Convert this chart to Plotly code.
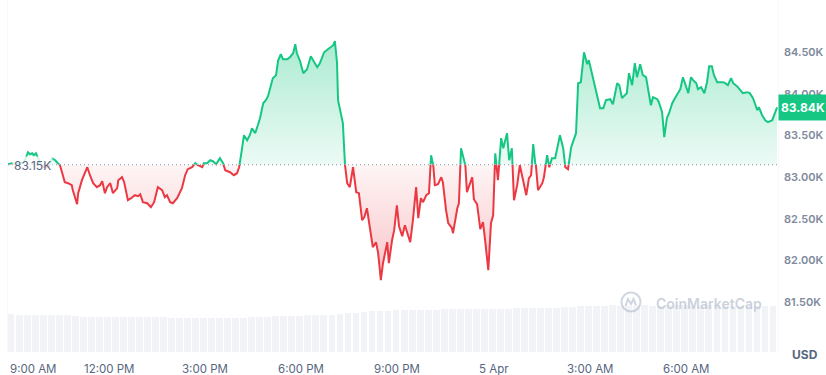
import pandas as pd
import plotly.graph_objects as go

# ---------------- data ----------------
clock = [
    "08:52", "08:59", "09:07", "09:14", "09:22", "09:27", "09:29", "09:33", "09:37", "09:40",
    "09:44", "09:52", "09:59", "10:07", "10:10", "10:14", "10:20", "10:25", "10:29", "10:38",
    "10:44", "10:51", "10:53", "11:01", "11:03", "11:10", "11:20", "11:25", "11:31", "11:38",
    "11:44", "11:48", "11:53", "11:57", "12:03", "12:08", "12:16", "12:18", "12:25", "12:29",
    "12:36", "12:42", "12:49", "12:55", "12:59", "13:04", "13:12", "13:19", "13:25", "13:32",
    "13:40", "13:45", "13:49", "13:55", "14:00", "14:08", "14:17", "14:23", "14:28", "14:36",
    "14:42", "14:47", "14:55", "14:58", "15:04", "15:10", "15:15", "15:21", "15:28", "15:34",
    "15:38", "15:47", "15:54", "16:00", "16:04", "16:09", "16:13", "16:19", "16:24", "16:28",
    "16:34", "16:39", "16:43", "16:49", "16:54", "16:58", "17:04", "17:07", "17:13", "17:17",
    "17:22", "17:26", "17:34", "17:39", "17:45", "17:49", "17:52", "17:58", "18:04", "18:11",
    "18:18", "18:24", "18:30", "18:35", "18:43", "18:50", "19:00", "19:03", "19:07", "19:09",
    "19:16", "19:18", "19:22", "19:26", "19:31", "19:37", "19:43", "19:48", "19:54", "19:58",
    "20:03", "20:09", "20:14", "20:20", "20:24", "20:29", "20:33", "20:41", "20:44", "20:50",
    "20:54", "20:59", "21:03", "21:09", "21:14", "21:24", "21:29", "21:35", "21:39", "21:44",
    "21:48", "21:54", "21:59", "22:03", "22:07", "22:10", "22:16", "22:22", "22:25", "22:31",
    "22:35", "22:42", "22:44", "22:52", "22:55", "22:59", "23:03", "23:07", "23:10", "23:14",
    "23:20", "23:23", "23:29", "23:35", "23:40", "23:44", "23:50", "23:55", "23:59", "00:03",
    "00:08", "00:14", "00:18", "00:25", "00:29", "00:34", "00:38", "00:44", "00:49", "00:55",
    "01:01", "01:06", "01:10", "01:14", "01:19", "01:23", "01:31", "01:34", "01:40", "01:44",
    "01:49", "01:55", "02:04", "02:10", "02:14", "02:19", "02:25", "02:34", "02:38", "02:43",
    "02:49", "02:55", "02:58", "03:04", "03:10", "03:13", "03:19", "03:25", "03:30", "03:38",
    "03:43", "03:51", "03:55", "04:00", "04:06", "04:09", "04:13", "04:19", "04:24", "04:28",
    "04:34", "04:39", "04:45", "04:49", "04:54", "04:58", "05:06", "05:09", "05:15", "05:19",
    "05:24", "05:28", "05:34", "05:39", "05:45", "05:49", "05:54", "05:58", "06:04", "06:09",
    "06:13", "06:19", "06:22", "06:28", "06:31", "06:34", "06:39", "06:43", "06:48", "06:52",
    "06:58", "07:02", "07:09", "07:13", "07:18", "07:24", "07:28", "07:35", "07:41", "07:46",
    "07:54", "07:59", "08:05", "08:13", "08:16", "08:22", "08:28", "08:33", "08:41", "08:50",
]
price_usd = [
    83156, 83168, 83156, 83168, 83180, 83264, 83300, 83276, 83288, 83264,
    83288, 83168, 83120, 83120, 83156, 83228, 83204, 83168, 83144, 82940,
    82928, 82904, 82844, 82675, 82808, 82964, 83120, 83024, 82928, 82880,
    82904, 82952, 82808, 82880, 82928, 82808, 82868, 82964, 83000, 82940,
    82724, 82748, 82784, 82772, 82796, 82700, 82687, 82639, 82700, 82880,
    82844, 82760, 82784, 82700, 82687, 82748, 82868, 83024, 83096, 83120,
    83168, 83144, 83120, 83168, 83168, 83204, 83192, 83156, 83228, 83168,
    83084, 83060, 83024, 83048, 83120, 83325, 83505, 83445, 83505, 83589,
    83529, 83625, 83709, 83889, 83926, 83974, 84130, 84190, 84226, 84406,
    84478, 84418, 84418, 84442, 84490, 84599, 84490, 84394, 84250, 84298,
    84454, 84382, 84322, 84370, 84502, 84539, 84587, 84635, 84382, 83926,
    83721, 83649, 83144, 82928, 82880, 83120, 82820, 82808, 82483, 82519,
    82627, 82399, 82159, 82219, 82086, 81762, 81966, 82219, 81966, 82243,
    82363, 82663, 82411, 82291, 82423, 82219, 82483, 82880, 82507, 82748,
    82700, 82784, 82808, 83264, 83144, 82904, 82916, 83000, 82940, 82603,
    82447, 82387, 82327, 82627, 82687, 83349, 83228, 83144, 82820, 82904,
    83000, 82736, 82675, 82375, 82459, 82243, 81882, 82447, 82543, 83288,
    82964, 83469, 83349, 83529, 83204, 83349, 82724, 82904, 83144, 82964,
    82784, 82988, 83024, 83397, 83144, 82844, 82928, 83000, 83264, 83120,
    83228, 83228, 83505, 83349, 83120, 83096, 83361, 83529, 84130, 84142,
    84502, 84358, 84406, 84250, 84070, 84010, 83829, 83829, 83926, 83938,
    83877, 84130, 84106, 83950, 83986, 84010, 84250, 84106, 84370, 84202,
    84358, 84226, 84202, 84070, 83865, 83962, 83938, 83901, 83781, 83481,
    83709, 83769, 83889, 83950, 84010, 84058, 84202, 84130, 84010, 84202,
    84166, 84130, 84058, 84082, 84046, 84010, 84142, 84334, 84334, 84226,
    84142, 84142, 84142, 84130, 84106, 84190, 84130, 84094, 84046, 84010,
    84022, 84010, 83950, 83805, 83841, 83745, 83685, 83661, 83685, 83840,
]
start_day = "2025-04-04"
baseline_usd = 83150
baseline_label = "83.15K"
last_usd = 83840
last_label = "83.84K"

price_ticks = [81500, 82000, 82500, 83000, 83500, 84000, 84500]
price_tick_labels = ["81.50K", "82.00K", "82.50K", "83.00K", "83.50K", "84.00K", "84.50K"]

time_ticks = ["2025-04-04 09:00", "2025-04-04 12:00", "2025-04-04 15:00", "2025-04-04 18:00",
              "2025-04-04 21:00", "2025-04-05 00:00", "2025-04-05 03:00", "2025-04-05 06:00"]
time_tick_labels = ["9:00 AM", "12:00 PM", "3:00 PM", "6:00 PM", "9:00 PM", "5 Apr", "3:00 AM", "6:00 AM"]

volume_start = "2025-04-04 08:57:30"
volume_b = [
    37.6, 37.5, 37.5, 37.4, 37.5, 37.3, 37.4, 37.2,
    36.2,
    35.2, 35.1, 35.0, 35.0, 35.1, 34.9, 35.0, 35.0, 34.8, 34.9, 34.7,
    34.3, 34.1, 34.0, 34.0, 34.1, 33.9, 34.0, 34.2, 34.3,
    34.5, 34.6, 34.8,
    35.4, 35.6, 35.8, 36.0, 36.2,
    36.8, 37.0, 37.2, 37.4, 37.6,
    38.8, 39.4, 39.9,
    41.0, 41.3, 41.5, 41.6, 41.8,
    42.2, 42.4, 42.5, 42.5, 42.6, 42.6, 42.7, 42.8,
    43.2, 43.3, 43.4, 43.5, 43.5, 43.6, 43.7, 43.8,
    44.3, 44.4, 44.5, 44.6, 44.8,
    46.2, 46.4, 46.5, 46.5, 46.6, 46.5, 46.5, 46.6, 46.6, 46.5, 46.5, 46.6,
    46.7, 46.6, 46.5, 46.5, 46.6, 46.6, 46.5, 46.5, 46.4, 46.5, 46.5, 46.4,
    46.0,
]
assert len(clock) == len(price_usd)

# ---------------- timestamps ----------------
day = pd.Timestamp(start_day)
stamps = []
prev = None
for c in clock:
    h, m = map(int, c.split(":"))
    t = day + pd.Timedelta(hours=h, minutes=m)
    if prev is not None and t < prev:
        day += pd.Timedelta(days=1)
        t += pd.Timedelta(days=1)
    stamps.append(t)
    prev = t
volume_times = pd.date_range(volume_start, periods=len(volume_b), freq="15min")

# ---------------- styling / geometry ----------------
W, H = 826, 375
M_L, M_R, M_T, M_B = 8, 48, 0, 23
PLOT_H = H - M_T - M_B
Y_LO, Y_HI = 80899, 85130
X_RANGE = ["2025-04-04 08:51:45", "2025-04-05 08:51:45"]
split = (baseline_usd - Y_LO) / (Y_HI - Y_LO)
GREEN = "#16c784"
RED = "#ea3943"
FONT = "Inter"
hi_price = max(price_usd)
lo_price = min(price_usd)

fig = go.Figure()

# invisible anchor trace for the main (grid) subplot
fig.add_trace(go.Scatter(x=[stamps[0]], y=[baseline_usd], mode="markers",
                         marker=dict(opacity=0), hoverinfo="skip", showlegend=False,
                         xaxis="x", yaxis="y"))

# volume bars
fig.add_trace(go.Bar(x=volume_times, y=volume_b, width=15 * 60 * 1000 * 0.85,
                     marker=dict(color="rgba(207,214,228,0.3)", line=dict(width=0)),
                     hoverinfo="skip", showlegend=False, xaxis="x", yaxis="y4"))

# green part (above baseline)
fig.add_trace(go.Scatter(x=stamps, y=[baseline_usd] * len(stamps), mode="lines",
                         line=dict(width=0), hoverinfo="skip", showlegend=False,
                         xaxis="x", yaxis="y2"))
fig.add_trace(go.Scatter(x=stamps, y=price_usd, mode="lines",
                         line=dict(color=GREEN, width=2), fill="tonexty",
                         fillgradient=dict(type="vertical", start=baseline_usd, stop=hi_price,
                                           colorscale=[[0, "rgba(22,199,132,0.08)"],
                                                       [1, "rgba(22,199,132,0.36)"]]),
                         hoverinfo="skip", showlegend=False, xaxis="x", yaxis="y2"))

# red part (below baseline)
fig.add_trace(go.Scatter(x=stamps, y=[baseline_usd] * len(stamps), mode="lines",
                         line=dict(width=0), hoverinfo="skip", showlegend=False,
                         xaxis="x", yaxis="y3"))
fig.add_trace(go.Scatter(x=stamps, y=price_usd, mode="lines",
                         line=dict(color=RED, width=2), fill="tonexty",
                         fillgradient=dict(type="vertical", start=lo_price, stop=baseline_usd,
                                           colorscale=[[0, "rgba(234,57,67,0.30)"],
                                                       [1, "rgba(234,57,67,0.05)"]]),
                         hoverinfo="skip", showlegend=False, xaxis="x", yaxis="y3"))

shapes = [
    dict(type="line", xref="paper", x0=0, x1=1, yref="y", y0=baseline_usd, y1=baseline_usd,
         line=dict(color="#8a93a5", width=1, dash="1px,3px"), layer="above"),
    dict(type="line", xref="paper", x0=0, x1=0, yref="paper", y0=0, y1=1,
         line=dict(color="#eff2f5", width=1), layer="below"),
    dict(type="line", xref="paper", x0=1, x1=1, yref="paper", y0=0, y1=1,
         line=dict(color="#eff2f5", width=1), layer="below"),
    # CoinMarketCap watermark logo
    dict(type="circle", xref="paper", yref="paper", xsizemode="pixel", ysizemode="pixel",
         xanchor=(631 - M_L) / (W - M_L - M_R), yanchor=(H - M_B - 302) / PLOT_H,
         x0=-9.5, x1=9.5, y0=-9.5, y1=9.5,
         line=dict(color="rgba(170,180,198,0.55)", width=2), layer="above"),
    dict(type="path", xref="paper", yref="paper", xsizemode="pixel", ysizemode="pixel",
         xanchor=(631 - M_L) / (W - M_L - M_R), yanchor=(H - M_B - 302) / PLOT_H,
         path="M -5.5 -4 L -3 3 L 0 -2 L 2.5 3 L 5 -3",
         line=dict(color="rgba(170,180,198,0.55)", width=2), layer="above"),
]

annotations = [
    dict(text=baseline_label, xref="paper", x=0, xanchor="left", xshift=4,
         yref="y", y=baseline_usd, yanchor="middle", yshift=-1, showarrow=False,
         font=dict(family=FONT, size=12, color="#58667e"),
         bgcolor="rgba(255,255,255,0.8)", borderpad=1),
    dict(text=last_label, xref="paper", x=1, xanchor="left", yref="y", y=last_usd,
         yanchor="middle", showarrow=False, width=46, height=23, borderpad=1,
         align="center", bgcolor=GREEN,
         font=dict(family=FONT, size=12, color="white", weight=700)),
    dict(text="USD", xref="paper", x=1, xanchor="left", xshift=12,
         yref="paper", y=0, yanchor="middle", yshift=-2, showarrow=False,
         font=dict(family=FONT, size=12, color="#58667e", weight=700)),
    dict(text="CoinMarketCap", xref="paper", x=(654 - M_L) / (W - M_L - M_R), xanchor="left",
         yref="paper", y=(H - M_B - 303) / PLOT_H, yanchor="middle", showarrow=False,
         font=dict(family=FONT, size=14, color="rgba(170,180,198,0.6)", weight=600)),
]
for i, (t, lab) in enumerate(zip(time_ticks, time_tick_labels)):
    if i == 0:
        annotations.append(dict(text=lab, xref="paper", x=0, xanchor="left",
                                yref="paper", y=0, yanchor="middle", yshift=-17, showarrow=False,
                                font=dict(family=FONT, size=11.5, color="#58667e")))
    else:
        annotations.append(dict(text=lab, xref="x", x=t, xanchor="center",
                                yref="paper", y=0, yanchor="middle", yshift=-17, showarrow=False,
                                font=dict(family=FONT, size=11.5, color="#58667e")))

fig.update_layout(
    width=W, height=H,
    margin=dict(l=M_L, r=M_R, t=M_T, b=M_B),
    paper_bgcolor="white", plot_bgcolor="white",
    showlegend=False, bargap=0,
    font=dict(family=FONT),
    xaxis=dict(range=X_RANGE, type="date", showgrid=False, zeroline=False,
               showticklabels=False, showline=False, ticks=""),
    yaxis=dict(range=[Y_LO, Y_HI], domain=[0, 1], side="right", anchor="x",
               tickvals=price_ticks, ticktext=price_tick_labels,
               showgrid=True, gridcolor="#eff2f5", gridwidth=1, zeroline=False,
               showline=False, ticks="", ticklabelstandoff=5,
               tickfont=dict(family=FONT, size=11, color="#808a9d", weight=600)),
    yaxis2=dict(range=[baseline_usd, Y_HI], domain=[split, 1], anchor="x", visible=False),
    yaxis3=dict(range=[Y_LO, baseline_usd], domain=[0, split], anchor="x", visible=False),
    yaxis4=dict(range=[0, 52], domain=[0, 52 / PLOT_H], anchor="x", visible=False),
    shapes=shapes,
    annotations=annotations,
)

fig.write_html(
    "out.html",
    config={"displayModeBar": False},
    post_script="document.body.style.margin='0px';document.body.style.overflow='hidden';",
)
